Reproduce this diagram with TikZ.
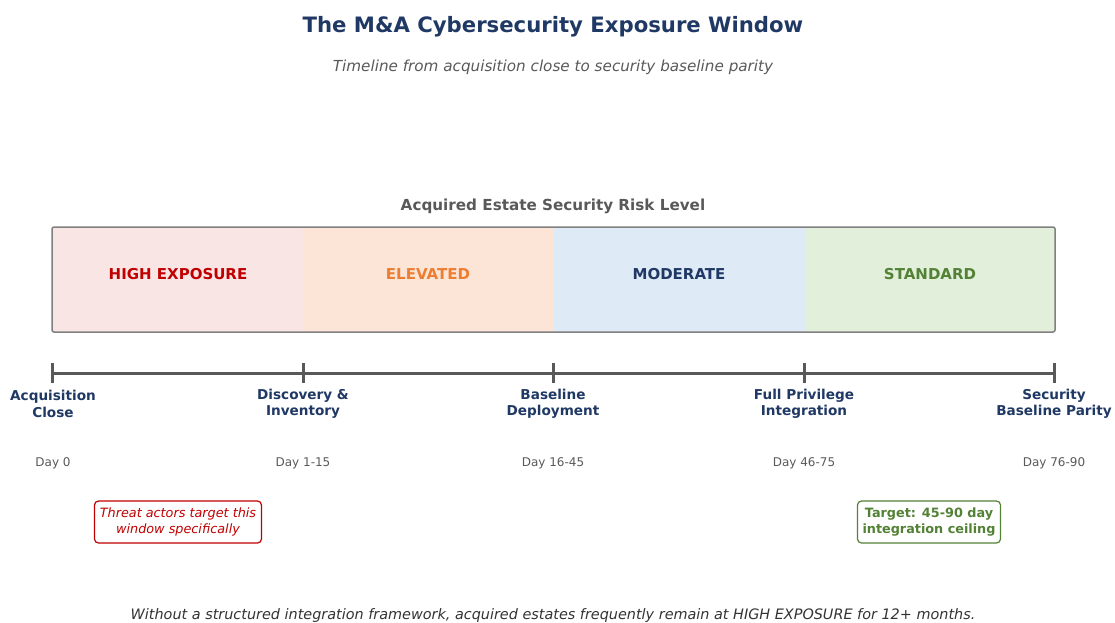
\documentclass[tikz,border=0pt]{standalone}
\usepackage{fontspec}
\setmainfont{DejaVu Sans}
\usetikzlibrary{calc}
\definecolor{navy}{HTML}{1F3864}
\definecolor{riskred}{HTML}{C00000}
\definecolor{riskorange}{HTML}{ED7D31}
\definecolor{riskgreen}{HTML}{538135}
\definecolor{pinkfill}{HTML}{FAE5E5}
\definecolor{peachfill}{HTML}{FCE4D6}
\definecolor{bluefill}{HTML}{DEEAF6}
\definecolor{greenfill}{HTML}{E2EFDA}
\definecolor{axisgray}{HTML}{595959}
\definecolor{textgray}{HTML}{595959}
\def\drawaxis{\draw[color=axisgray, line width=3pt]}
\def\bandnode{\node[font=\bfseries\fontsize{15}{18}\selectfont]}
\def\milenode{\node[align=center, text=navy, font=\bfseries\fontsize{13.6}{16.5}\selectfont]}
\def\daynode{\node[text=textgray, font=\fontsize{12}{14}\selectfont]}

\begin{document}
\begin{tikzpicture}[x=1pt,y=-1pt,inner sep=0pt]
\useasboundingbox (0,0) rectangle (1115,622);
\node[text=navy, font=\bfseries\fontsize{21.2}{25}\selectfont] (title) at (553,26.5) {The M\&A Cybersecurity Exposure Window};
\node[text=textgray, font=\itshape\fontsize{15.2}{18}\selectfont] (subtitle) at (553,67) {Timeline from acquisition close to security baseline parity};
\node[text=textgray, font=\bfseries\fontsize{15.2}{18}\selectfont] (header) at (553,206.5) {Acquired Estate Security Risk Level};
% risk bands
\fill[pinkfill] (52,227) rectangle (303,332);
\fill[peachfill] (303,227) rectangle (554,332);
\fill[bluefill] (554,227) rectangle (805,332);
\fill[greenfill] (805,227) rectangle (1055,332);
\draw[color=gray, line width=1.5pt, rounded corners=2pt] (52,227) rectangle (1055,332);
\bandnode[text=riskred] (high) at (178,274) {HIGH EXPOSURE};
\bandnode[text=riskorange] (elev) at (428,274) {ELEVATED};
\bandnode[text=navy] (mod) at (679,274) {MODERATE};
\bandnode[text=riskgreen] (std) at (930,274) {STANDARD};
% timeline
\coordinate (t0) at (52,373);
\coordinate (t1) at (303,373);
\coordinate (t2) at (553,373);
\coordinate (t3) at (804,373);
\coordinate (t4) at (1054,373);
\drawaxis (t0) -- (t4);
\foreach \t in {t0,t1,t2,t3,t4}
  \drawaxis ($(\t)+(0,-10)$) -- ($(\t)+(0,10)$);
\milenode (close) at (53,404) {Acquisition\\Close};
\milenode (disc) at (303,404) {Discovery \&\\Inventory};
\milenode (base) at (553,404) {Baseline\\Deployment};
\milenode (priv) at (804,404) {Full Privilege\\Integration};
\milenode (parity) at (1054,404) {Security\\Baseline Parity};
\daynode (d0) at (53,463) {Day 0};
\daynode (d1) at (303,463) {Day 1-15};
\daynode (d2) at (553,463) {Day 16-45};
\daynode (d3) at (804,463) {Day 46-75};
\daynode (d4) at (1054,463) {Day 76-90};
% notes
\node[draw=riskred, fill=white, line width=1.2pt, rounded corners=4pt, align=center, text=riskred,
  minimum width=167pt, minimum height=42pt, font=\itshape\fontsize{12.8}{16.5}\selectfont] (threat) at (178,522)
  {Threat actors target this\\window specifically};
\node[draw=riskgreen, fill=white, line width=1.2pt, rounded corners=4pt, align=center, text=riskgreen,
  minimum width=143pt, minimum height=42pt, font=\bfseries\fontsize{12.8}{16.5}\selectfont] (target) at (929,522)
  {Target: 45-90 day\\integration ceiling};
\node[text=black!80, font=\itshape\fontsize{14.4}{17}\selectfont] (footer) at (553,615.5)
  {Without a structured integration framework, acquired estates frequently remain at HIGH EXPOSURE for 12+ months.};
\end{tikzpicture}
\end{document}
